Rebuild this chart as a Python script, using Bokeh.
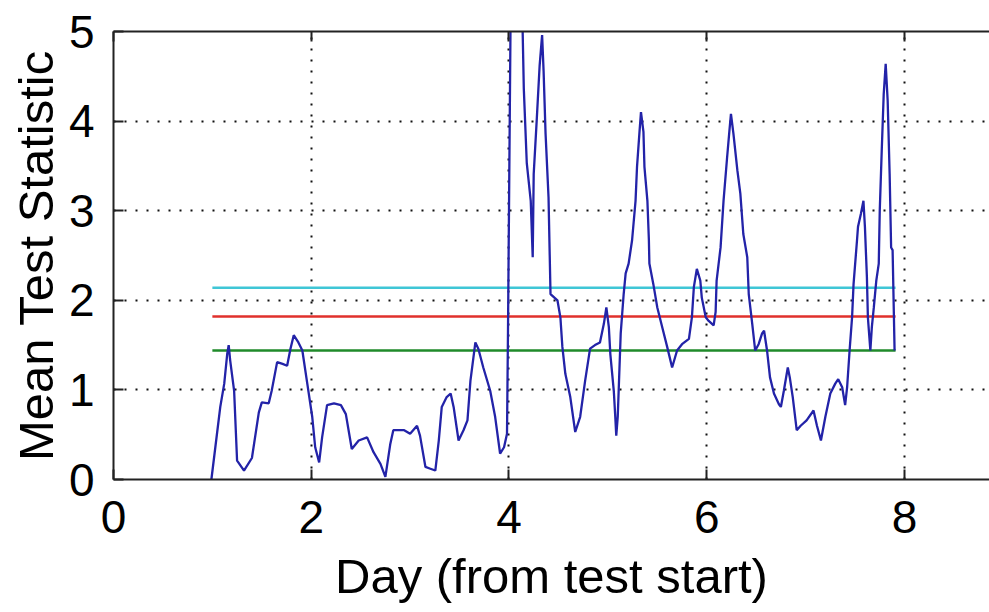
from bokeh.plotting import figure
from bokeh.models import LinearAxis, FixedTicker
from bokeh.embed import file_html
from bokeh.resources import INLINE

# ---- data ----
day = [0.99, 1.03, 1.08, 1.12, 1.15, 1.165, 1.18, 1.22, 1.25, 1.32, 1.40, 1.47, 1.50, 1.57,
       1.60, 1.655, 1.71, 1.756, 1.79, 1.823, 1.87, 1.91, 1.96, 2.01, 2.04, 2.08, 2.11, 2.16,
       2.23, 2.30, 2.35, 2.41, 2.48, 2.565, 2.63, 2.70, 2.75, 2.80, 2.83, 2.94, 3.00, 3.07,
       3.10, 3.155, 3.205, 3.255, 3.29, 3.32, 3.37, 3.41, 3.44, 3.49, 3.54, 3.58, 3.61, 3.66,
       3.69, 3.74, 3.81, 3.86, 3.91, 3.95, 3.98, 3.99, 4.03, 4.12, 4.15, 4.18, 4.22, 4.24,
       4.25, 4.28, 4.31, 4.335, 4.35, 4.37, 4.40, 4.42, 4.49, 4.52, 4.54, 4.57, 4.62, 4.67,
       4.72, 4.77, 4.82, 4.87, 4.92, 4.96, 4.985, 5.01, 5.025, 5.06, 5.075, 5.085, 5.10, 5.13,
       5.16, 5.18, 5.21, 5.245, 5.28, 5.295, 5.32, 5.335, 5.36, 5.37, 5.40, 5.415, 5.42, 5.46,
       5.50, 5.55, 5.60, 5.65, 5.70, 5.75, 5.82, 5.85, 5.87, 5.90, 5.935, 5.95, 5.99, 6.02,
       6.07, 6.09, 6.10, 6.14, 6.17, 6.205, 6.23, 6.245, 6.27, 6.31, 6.34, 6.37, 6.41, 6.425,
       6.46, 6.49, 6.525, 6.56, 6.58, 6.61, 6.64, 6.68, 6.73, 6.75, 6.78, 6.82, 6.84, 6.87,
       6.91, 6.95, 7.01, 7.08, 7.115, 7.155, 7.20, 7.25, 7.30, 7.33, 7.37, 7.40, 7.42, 7.445,
       7.47, 7.485, 7.52, 7.53, 7.56, 7.585, 7.60, 7.62, 7.63, 7.655, 7.67, 7.69, 7.715, 7.74,
       7.75, 7.77, 7.79, 7.81, 7.83, 7.85, 7.865, 7.88, 7.90]
stat = [0.0, 0.36, 0.81, 1.07, 1.40, 1.50, 1.33, 0.99, 0.21, 0.10, 0.24, 0.75, 0.86, 0.85,
        0.99, 1.31, 1.29, 1.27, 1.46, 1.61, 1.53, 1.44, 1.07, 0.70, 0.36, 0.19, 0.47, 0.83,
        0.85, 0.83, 0.73, 0.34, 0.435, 0.47, 0.305, 0.175, 0.03, 0.40, 0.55, 0.55, 0.51, 0.60,
        0.49, 0.14, 0.12, 0.10, 0.435, 0.81, 0.92, 0.96, 0.81, 0.435, 0.55, 0.66, 1.10, 1.53,
        1.46, 1.25, 0.99, 0.70, 0.29, 0.36, 0.51, 1.66, 7.0, 6.0, 4.36, 3.53, 3.11, 2.48,
        3.41, 4.00, 4.62, 4.96, 4.56, 3.86, 3.15, 2.07, 2.00, 1.81, 1.48, 1.18, 0.92, 0.53,
        0.70, 1.10, 1.46, 1.50, 1.53, 1.74, 1.92, 1.70, 1.40, 0.99, 0.70, 0.49, 0.70, 1.63,
        2.07, 2.30, 2.41, 2.67, 3.11, 3.49, 3.88, 4.10, 3.88, 3.49, 3.11, 2.67, 2.41, 2.18,
        1.92, 1.70, 1.48, 1.25, 1.44, 1.51, 1.57, 1.81, 2.15, 2.35, 2.22, 2.03, 1.81, 1.77,
        1.72, 1.87, 2.22, 2.59, 3.11, 3.58, 3.90, 4.08, 3.86, 3.45, 3.19, 2.74, 2.48, 2.07,
        1.74, 1.44, 1.51, 1.63, 1.66, 1.44, 1.14, 0.96, 0.84, 0.81, 0.99, 1.25, 1.14, 0.92,
        0.55, 0.60, 0.66, 0.77, 0.60, 0.435, 0.70, 0.96, 1.07, 1.12, 1.03, 0.83, 1.03, 1.44,
        1.81, 2.18, 2.67, 2.82, 2.97, 3.11, 2.82, 2.26, 1.81, 1.44, 1.70, 1.92, 2.22, 2.41,
        3.00, 3.67, 4.30, 4.64, 4.23, 3.41, 2.59, 2.56, 1.44]

threshold_days = [1.0, 7.91]
threshold_cyan = [2.14, 2.14]
threshold_red = [1.82, 1.82]
threshold_green = [1.44, 1.44]

x_ticks = [0, 2, 4, 6, 8]
y_ticks = [0, 1, 2, 3, 4, 5]

FONT = "Liberation Sans"

p = figure(x_range=(0, 8.86), y_range=(0, 5),
           width=989, height=612,
           min_border_left=113, min_border_right=0, min_border_top=31, min_border_bottom=133,
           output_backend="svg", toolbar_location=None,
           outline_line_color=None, background_fill_color="white",
           border_fill_color="white", x_axis_location="below")

p.line(threshold_days, threshold_cyan, line_color="#3fc6d6", line_width=2.5)
p.line(threshold_days, threshold_red, line_color="#e0302c", line_width=2.5)
p.line(threshold_days, threshold_green, line_color="#1f8a2a", line_width=2.5)
p.line(day, stat, line_color="#2323a8", line_width=2.3)

for ax, ticks in ((p.xaxis[0], x_ticks), (p.yaxis[0], y_ticks)):
    ax.ticker = FixedTicker(ticks=ticks)
    ax.minor_tick_line_color = None
    ax.major_tick_in = 10
    ax.major_tick_out = 0
    ax.major_tick_line_width = 2
    ax.major_tick_line_color = "#222222"
    ax.axis_line_width = 2
    ax.axis_line_color = "#222222"
    ax.major_label_text_font = FONT
    ax.major_label_text_font_size = "46px"
    ax.major_label_text_color = "black"
    ax.axis_label_text_font = FONT
    ax.axis_label_text_font_size = "49px"
    ax.axis_label_text_font_style = "normal"
    ax.axis_label_text_color = "black"

p.xaxis.axis_label = "Day (from test start)"
p.yaxis.axis_label = "Mean Test Statistic"
p.xaxis.major_label_standoff = 21
p.yaxis.major_label_standoff = 19
p.xaxis.axis_label_standoff = 13
p.yaxis.axis_label_standoff = 3

top = LinearAxis(ticker=FixedTicker(ticks=x_ticks))
top.minor_tick_line_color = None
top.major_tick_in = 10
top.major_tick_out = 0
top.major_tick_line_width = 2
top.major_tick_line_color = "#222222"
top.axis_line_width = 2
top.axis_line_color = "#222222"
top.major_label_text_font_size = "1px"
top.major_label_text_color = None
top.major_label_standoff = 0
p.add_layout(top, "above")

p.xgrid.ticker = FixedTicker(ticks=[2, 4, 6, 8])
p.ygrid.ticker = FixedTicker(ticks=[1, 2, 3, 4])
for g in (p.xgrid[0], p.ygrid[0]):
    g.grid_line_color = "#111111"
    g.grid_line_dash = "2 9"
    g.grid_line_width = 2

open("out.html", "w").write(file_html(p, INLINE))
